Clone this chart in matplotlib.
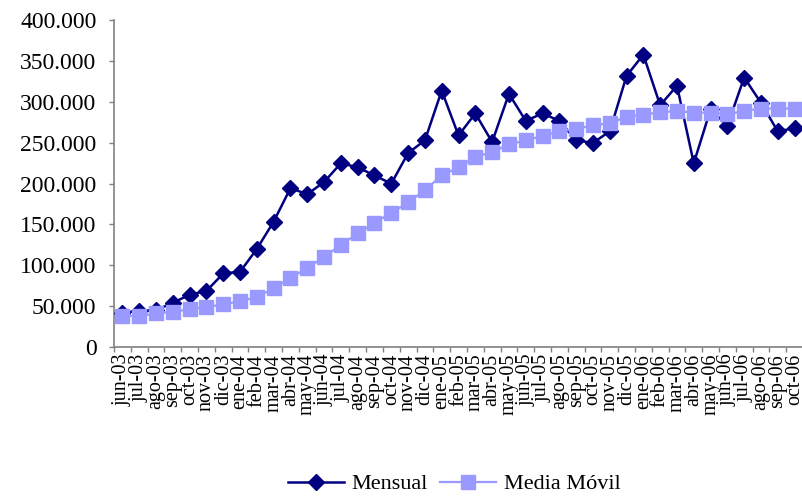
import numpy as np
import matplotlib
matplotlib.use("Agg")
import matplotlib.pyplot as plt
from matplotlib.ticker import FuncFormatter, FixedLocator

# meses (jun-03 .. oct-06)
meses = ["jun-03", "jul-03", "ago-03", "sep-03", "oct-03", "nov-03", "dic-03",
         "ene-04", "feb-04", "mar-04", "abr-04", "may-04", "jun-04", "jul-04",
         "ago-04", "sep-04", "oct-04", "nov-04", "dic-04",
         "ene-05", "feb-05", "mar-05", "abr-05", "may-05", "jun-05", "jul-05",
         "ago-05", "sep-05", "oct-05", "nov-05", "dic-05",
         "ene-06", "feb-06", "mar-06", "abr-06", "may-06", "jun-06", "jul-06",
         "ago-06", "sep-06", "oct-06"]

mensual = [42000, 44000, 45000, 54000, 64000, 68500, 90000,
           92000, 120000, 153500, 194500, 187000, 202000, 225000,
           220000, 210000, 200000, 237500, 253000,
           314000, 259000, 286000, 251000, 310000, 277000, 286000,
           277000, 253000, 250000, 264000, 332000,
           358000, 296000, 320000, 225000, 291000, 271000, 330000,
           299000, 264000, 268000]

media_movil = [38000, 38000, 41000, 43000, 46000, 49000, 52000,
               56000, 61000, 72000, 84500, 97000, 110000, 125000,
               139000, 152000, 164000, 177000, 192000,
               210000, 220000, 233000, 238500, 248000, 253000, 258500,
               264000, 267000, 271500, 274000, 282000,
               284500, 287500, 289000, 287000, 287000, 285000, 289000,
               292000, 292000, 292000]

plt.rcParams['font.family'] = ['Liberation Serif', 'DejaVu Serif']

fig = plt.figure(figsize=(8.03, 4.97), dpi=100)
ax = fig.add_axes([0.142, 0.302, 0.858, 0.657])

x = np.arange(len(meses))
ax.plot(x, mensual, color="#000080", lw=1.8, marker="D", ms=7.8,
        mec="#000080", mfc="#000080", label="Mensual", zorder=3)
ax.plot(x, media_movil, color="#9999FF", lw=1.6, marker="s", ms=10.5,
        mec="#9999FF", mfc="#9999FF", label="Media Móvil", zorder=4)

ax.set_xlim(-0.5, len(meses) - 0.5)
ax.set_ylim(0, 400000)
ax.set_yticks(np.arange(0, 400001, 50000))
ax.yaxis.set_major_formatter(FuncFormatter(
    lambda v, p: "0" if v == 0 else f"{int(v):,}".replace(",", ".")))

ax.set_xticks(x)
ax.set_xticklabels(meses, rotation=90, va="top", ha="center")
ax.xaxis.set_minor_locator(FixedLocator(np.arange(-0.5, len(meses), 1.0)))
ax.tick_params(axis="x", which="major", length=0, pad=5, labelsize=14.5)
ax.tick_params(axis="x", which="minor", length=3.6, width=1, color="#808080")
ax.tick_params(axis="y", length=3.6, width=1, color="#808080", labelsize=17, pad=9)

for s in ["top", "right"]:
    ax.spines[s].set_visible(False)
for s in ["left", "bottom"]:
    ax.spines[s].set_color("#808080")
    ax.spines[s].set_linewidth(1.2)

fig.legend(loc="center", bbox_to_anchor=(0.566, 0.026), ncol=2, frameon=False,
           fontsize=16, handlelength=2.5, handletextpad=0.35, columnspacing=0.55)

fig.savefig("out.png", dpi=100)
